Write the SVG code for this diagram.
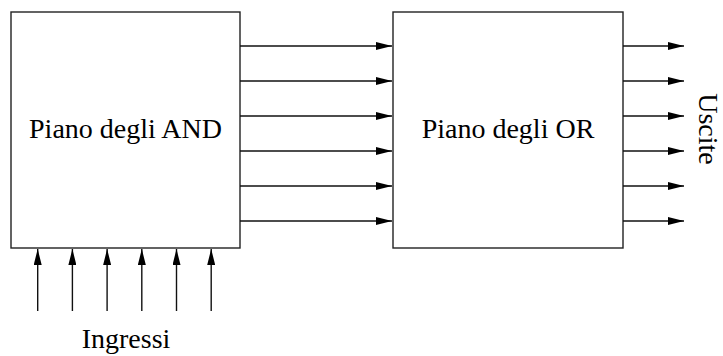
<svg xmlns="http://www.w3.org/2000/svg" width="723" height="356" viewBox="0 0 723 356">
<style>
.box{fill:#fff;stroke:#222;stroke-width:1.4}
.ln{stroke:#111;stroke-width:1.4;fill:none;marker-end:url(#ah)}
.t{font-family:'Liberation Serif','Times New Roman',serif;font-size:28px;fill:#000}
</style>
<defs>
<marker id="ah" viewBox="0 0 16 8" refX="16" refY="4" markerWidth="16" markerHeight="8" markerUnits="userSpaceOnUse" orient="auto">
<path d="M0,0 L16,4 L0,8 Z" fill="#000"/>
</marker>
</defs>
<g id="and-plane">
<rect class="box" x="11" y="12" width="229" height="236"/>
<text class="t" x="125.5" y="138" text-anchor="middle">Piano degli AND</text>
</g>
<g id="or-plane">
<rect class="box" x="393" y="12" width="230" height="236"/>
<text class="t" x="508" y="138" text-anchor="middle">Piano degli OR</text>
</g>
<g id="inputs-label">
<text class="t" x="126" y="348" text-anchor="middle">Ingressi</text>
</g>
<g id="outputs-label">
<text class="t" text-anchor="middle" transform="translate(699,129) rotate(90)">Uscite</text>
</g>
<g id="connectors">
<line class="ln" x1="240" y1="46" x2="392" y2="46"/>
<line class="ln" x1="240" y1="81" x2="392" y2="81"/>
<line class="ln" x1="240" y1="116" x2="392" y2="116"/>
<line class="ln" x1="240" y1="151" x2="392" y2="151"/>
<line class="ln" x1="240" y1="186" x2="392" y2="186"/>
<line class="ln" x1="240" y1="221" x2="392" y2="221"/>
<line class="ln" x1="623" y1="46" x2="684" y2="46"/>
<line class="ln" x1="623" y1="81" x2="684" y2="81"/>
<line class="ln" x1="623" y1="116" x2="684" y2="116"/>
<line class="ln" x1="623" y1="151" x2="684" y2="151"/>
<line class="ln" x1="623" y1="186" x2="684" y2="186"/>
<line class="ln" x1="623" y1="221" x2="684" y2="221"/>
<line class="ln" x1="37.7" y1="311" x2="37.7" y2="249"/>
<line class="ln" x1="72.4" y1="311" x2="72.4" y2="249"/>
<line class="ln" x1="107.1" y1="311" x2="107.1" y2="249"/>
<line class="ln" x1="141.8" y1="311" x2="141.8" y2="249"/>
<line class="ln" x1="176.5" y1="311" x2="176.5" y2="249"/>
<line class="ln" x1="211.2" y1="311" x2="211.2" y2="249"/>
</g>
</svg>
